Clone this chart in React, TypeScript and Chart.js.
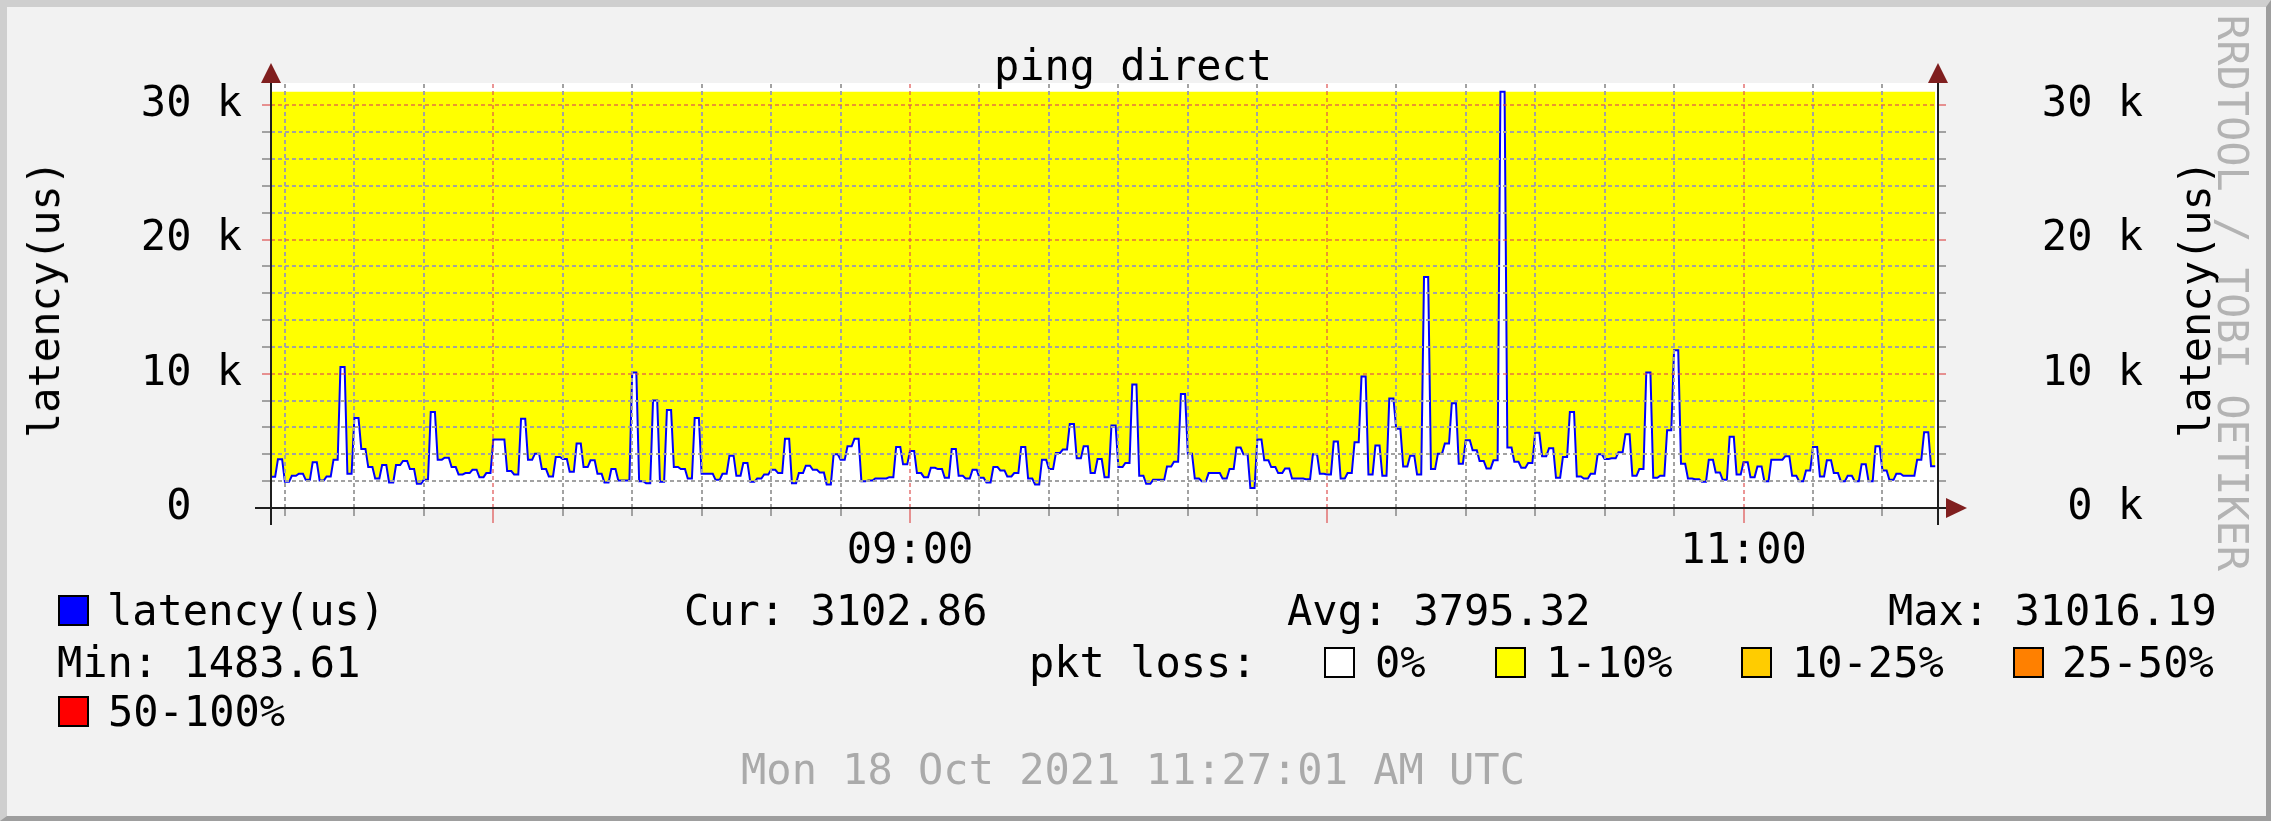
import React, { useEffect, useRef } from "react";
import { Chart, registerables } from "chart.js";

Chart.register(...registerables);

// ---------- data ----------
// first sample time, in minutes after 07:00 (07:28), one sample per minute
const START_MINUTE = 28;
const END_MINUTE = 268;
// median ping latency in microseconds, one value per minute (07:28 .. 11:27)
const latencyUs = [
  2330, 3640, 1950, 2400, 2550, 2100, 3400, 2050, 2350, 3600,
  10500, 2550, 6700, 4400, 3050, 2200, 3200, 1900, 3200, 3500,
  2900, 1800, 2100, 7150, 3600, 3750, 3050, 2500, 2600, 2850,
  2300, 2600, 5100, 5100, 2750, 2500, 6650, 3600, 4050, 2900,
  2350, 3800, 3650, 2700, 4800, 3050, 3550, 2550, 1900, 2900,
  2050, 2050, 10100, 2000, 1850, 8000, 1950, 7300, 3050, 2900,
  2200, 6700, 2550, 2550, 2100, 2550, 3900, 2400, 3350, 1950,
  2200, 2500, 2850, 2600, 5150, 1850, 2600, 3150, 2850, 2650,
  1750, 4000, 3600, 4600, 5150, 2000, 2050, 2200, 2200, 2300,
  4550, 3250, 4250, 2600, 2300, 3000, 2900, 2250, 4400, 2400,
  2200, 2850, 2250, 1900, 3050, 2800, 2350, 2600, 4550, 2200,
  1750, 3600, 2900, 4100, 4350, 6250, 3700, 4600, 2600, 3650,
  2300, 6150, 3050, 3350, 9200, 2400, 1800, 2100, 2100, 3100,
  3450, 8500, 4050, 2200, 2000, 2600, 2600, 2200, 2900, 4500,
  4000, 1483.61, 5100, 3550, 3050, 2600, 2950, 2200, 2200, 2150,
  4000, 2550, 2500, 4950, 2200, 2600, 4900, 9800, 2500, 4650,
  2400, 8150, 5900, 3100, 3900, 2500, 17200, 2900, 4050, 4800,
  7800, 3300, 5050, 4300, 3500, 2950, 3550, 31016.19, 4500, 3450,
  3000, 3350, 5600, 3850, 4450, 2250, 3800, 7150, 2350, 2200,
  2550, 4000, 3650, 3700, 4150, 5500, 2400, 2900, 10100, 2250,
  2400, 5800, 11750, 3300, 2200, 2150, 1950, 3600, 2650, 2100,
  5300, 2500, 3400, 2300, 3100, 2000, 3600, 3600, 3850, 2400,
  2000, 2800, 4550, 2350, 3550, 2600, 2000, 2400, 2000, 3250,
  2000, 4600, 2800, 2100, 2550, 2400, 2400, 3600, 5650, 3102.86,
];
// top of the packet-loss colour band (= max latency)
const LOSS_BAND_TOP = 31016.19;
const Y_MAX = 31660;

// grid / tick positions
const xGridMinutes = [30, 40, 50, 60, 70, 80, 90, 100, 110, 120, 130, 140, 150, 160, 170, 180, 190, 200, 210, 220, 230, 240, 250, 260];
const yGridValues = [0, 2000, 4000, 6000, 8000, 10000, 12000, 14000, 16000, 18000, 20000, 22000, 24000, 26000, 28000, 30000];
// axis labels
const hourLabelMinutes = [120, 240];
const hourLabels = ["09:00", "11:00"];
const yLabelValues = [0, 10000, 20000, 30000];
const yLabelsLeft = ["0  ", "10 k", "20 k", "30 k"];
const yLabelsRight = ["0 k", "10 k", "20 k", "30 k"];

// legend texts
const TITLE = "ping direct";
const AXIS_TITLE = "latency(us)";
const SERIES_NAME = "latency(us)";
const CUR_TEXT = "Cur: 3102.86";
const AVG_TEXT = "Avg: 3795.32";
const MAX_TEXT = "Max: 31016.19";
const MIN_TEXT = "Min: 1483.61";
const LOSS_TITLE = "pkt loss:";
const lossLabels = ["0%", "1-10%", "10-25%", "25-50%", "50-100%"];
const lossColors = ["#FFFFFF", "#FFFF00", "#FFCC00", "#FF8000", "#FF0000"];
const WATERMARK = "RRDTOOL / TOBI OETIKER";
const FOOTER = "Mon 18 Oct 2021 11:27:01 AM UTC";

// ---------- style ----------
const FONT = "'DejaVu Sans Mono', monospace";
const FS = 42;
const GRID = "#A2A2A2";
const MGRID = "rgba(222,79,79,0.6)";
const AXIS = "#1F1F1F";
const ARROW = "#801F1F";
const DASH = [4, 3];

const canvasBg = {
  id: "canvasBg",
  beforeDraw(chart: any) {
    const { ctx, chartArea: a } = chart;
    ctx.save();
    ctx.fillStyle = "#FFFFFF";
    ctx.fillRect(a.left, a.top, a.right - a.left, a.bottom - a.top);
    ctx.restore();
  },
};

// rrdtool-style grid drawn over the areas, positioned by the chart's own scales
const gridPlugin = {
  id: "rrdGrid",
  afterDatasetsDraw(chart: any) {
    const { ctx, chartArea: a, scales } = chart;
    const xs = scales.x;
    const ys = scales.y;
    ctx.save();
    ctx.lineWidth = 2;
    for (const m of xGridMinutes) {
      const x = Math.round(xs.getPixelForValue(m));
      const major = m % 60 === 0;
      ctx.strokeStyle = major ? MGRID : GRID;
      ctx.setLineDash(DASH);
      ctx.beginPath();
      ctx.moveTo(x, a.bottom);
      ctx.lineTo(x, a.top);
      ctx.stroke();
      ctx.setLineDash([]);
      ctx.beginPath();
      ctx.moveTo(x, a.bottom);
      ctx.lineTo(x, a.bottom + (major ? 15 : 8));
      ctx.stroke();
    }
    for (const v of yGridValues) {
      if (v === 0) continue;
      const y = Math.round(ys.getPixelForValue(v));
      const major = v % 10000 === 0;
      ctx.strokeStyle = major ? MGRID : GRID;
      ctx.setLineDash(DASH);
      ctx.beginPath();
      ctx.moveTo(a.left, y);
      ctx.lineTo(a.right, y);
      ctx.stroke();
      ctx.setLineDash([]);
      ctx.beginPath();
      ctx.moveTo(a.left - 9, y);
      ctx.lineTo(a.left, y);
      ctx.moveTo(a.right, y);
      ctx.lineTo(a.right + 8, y);
      ctx.stroke();
    }
    ctx.restore();
  },
};

const axesPlugin = {
  id: "rrdAxes",
  afterDraw(chart: any) {
    const { ctx, chartArea: a } = chart;
    ctx.save();
    ctx.strokeStyle = AXIS;
    ctx.lineWidth = 2;
    ctx.beginPath();
    ctx.moveTo(a.left - 16, a.bottom);
    ctx.lineTo(a.right + 8, a.bottom);
    ctx.moveTo(a.left, a.bottom + 17);
    ctx.lineTo(a.left, a.top);
    ctx.moveTo(a.right, a.bottom + 17);
    ctx.lineTo(a.right, a.top);
    ctx.stroke();
    ctx.fillStyle = ARROW;
    for (const x of [a.left, a.right]) {
      ctx.beginPath();
      ctx.moveTo(x - 10, a.top);
      ctx.lineTo(x + 10, a.top);
      ctx.lineTo(x, a.top - 20);
      ctx.closePath();
      ctx.fill();
    }
    ctx.beginPath();
    ctx.moveTo(a.right + 8, a.bottom - 10);
    ctx.lineTo(a.right + 8, a.bottom + 10);
    ctx.lineTo(a.right + 29, a.bottom);
    ctx.closePath();
    ctx.fill();
    ctx.restore();
  },
};

const textBase: React.CSSProperties = {
  position: "absolute",
  fontFamily: FONT,
  fontSize: FS,
  lineHeight: `${FS}px`,
  whiteSpace: "pre",
  color: "#000",
};

function T({ x, base, text, color, center }: { x: number; base: number; text: string; color?: string; center?: boolean }) {
  return (
    <div
      style={{
        ...textBase,
        left: x,
        top: base - 35.5,
        color: color || "#000",
        transform: center ? "translateX(-50%)" : undefined,
      }}
    >
      {text}
    </div>
  );
}

function RotT({ cx, cy, text, deg, color }: { cx: number; cy: number; text: string; deg: number; color?: string }) {
  return (
    <div
      style={{
        ...textBase,
        left: cx,
        top: cy,
        color: color || "#000",
        transform: `translate(-50%, -50%) rotate(${deg}deg)`,
      }}
    >
      {text}
    </div>
  );
}

function Box({ x, y, color }: { x: number; y: number; color: string }) {
  return (
    <div
      style={{
        position: "absolute",
        left: x,
        top: y,
        width: 31,
        height: 31,
        boxSizing: "border-box",
        background: color,
        border: "2px solid #000",
      }}
    />
  );
}

export default function App() {
  const ref = useRef<HTMLCanvasElement>(null);

  useEffect(() => {
    const canvas = ref.current!;
    const linePts: { x: number; y: number }[] = [];
    latencyUs.forEach((v, i) => {
      const t = START_MINUTE + i;
      linePts.push({ x: t, y: v });
      linePts.push({ x: t + 0.6, y: v });
    });
    const bandPts = linePts.map((p) => ({ x: p.x, y: LOSS_BAND_TOP }));

    const tickFont = { family: FONT, size: FS };
    const setYTicks = (s: any) => {
      s.ticks = yGridValues.map((v) => ({ value: v }));
    };
    const hiddenGrid = () => ({ display: false, drawOnChartArea: false, drawTicks: true, tickLength: 0 });

    const chart = new Chart(canvas, {
      type: "line",
      data: {
        datasets: [
          {
            data: linePts,
            borderColor: "#0000FF",
            borderWidth: 2,
            pointRadius: 0,
            fill: false,
            tension: 0,
          },
          {
            data: bandPts,
            borderColor: "rgba(0,0,0,0)",
            borderWidth: 1,
            pointRadius: 0,
            backgroundColor: "#FFFF00",
            fill: "-1",
            tension: 0,
          },
        ],
      },
      options: {
        animation: false,
        responsive: false,
        events: [],
        layout: { padding: { top: 83, left: 0, right: 128, bottom: 0 } },
        plugins: {
          legend: { display: false },
          title: { display: false },
          tooltip: { enabled: false },
        },
        scales: {
          x: {
            type: "linear",
            position: "bottom",
            min: START_MINUTE,
            max: END_MINUTE,
            afterBuildTicks: (s: any) => {
              s.ticks = xGridMinutes.map((v) => ({ value: v }));
            },
            afterFit: (s: any) => {
              s.height = 313;
            },
            ticks: {
              autoSkip: false,
              maxRotation: 0,
              minRotation: 0,
              padding: 19,
              color: "#000",
              font: tickFont,
              callback: (v: any) => {
                const k = hourLabelMinutes.indexOf(Math.round(Number(v)));
                return k >= 0 ? hourLabels[k] : "";
              },
            },
            grid: hiddenGrid(),
            border: { display: false },
          },
          y: {
            position: "left",
            min: 0,
            max: Y_MAX,
            afterBuildTicks: setYTicks,
            afterFit: (s: any) => {
              s.width = 271;
            },
            ticks: {
              autoSkip: false,
              padding: 29,
              color: "#000",
              font: tickFont,
              callback: (v: any) => {
                const k = yLabelValues.indexOf(Math.round(Number(v)));
                return k >= 0 ? yLabelsLeft[k] : "";
              },
            },
            grid: hiddenGrid(),
            border: { display: false },
          },
          y2: {
            position: "right",
            min: 0,
            max: Y_MAX,
            afterBuildTicks: setYTicks,
            afterFit: (s: any) => {
              s.width = 205;
            },
            ticks: {
              autoSkip: false,
              crossAlign: "far",
              padding: 10,
              color: "#000",
              font: tickFont,
              callback: (v: any) => {
                const k = yLabelValues.indexOf(Math.round(Number(v)));
                return k >= 0 ? yLabelsRight[k] : "";
              },
            },
            grid: hiddenGrid(),
            border: { display: false },
          },
        },
      } as any,
      plugins: [canvasBg, gridPlugin, axesPlugin],
    });
    return () => chart.destroy();
  }, []);

  const boxY1 = 595;
  const boxY2 = 647;
  const boxY3 = 696;

  return (
    <div style={{ position: "fixed", left: 0, top: 0, width: 2271, height: 821, background: "#F2F2F2", overflow: "hidden" }}>
      <div
        style={{
          position: "absolute",
          inset: 0,
          boxSizing: "border-box",
          borderStyle: "solid",
          borderWidth: "7px 5px 5px 7px",
          borderColor: "#CFCFCF #9E9E9E #9E9E9E #CFCFCF",
        }}
      />
      <canvas ref={ref} width={2271} height={821} style={{ position: "absolute", left: 0, top: 0, width: 2271, height: 821 }} />

      <T x={1133} base={80} text={TITLE} center />
      <RotT cx={45} cy={299} text={AXIS_TITLE} deg={-90} />
      <RotT cx={2196} cy={299} text={AXIS_TITLE} deg={-90} />
      <RotT cx={2232} cy={293} text={WATERMARK} deg={90} color="#B3B3B3" />

      <Box x={58} y={boxY1} color="#0000FF" />
      <T x={107} base={625} text={SERIES_NAME} />
      <T x={684} base={625} text={CUR_TEXT} />
      <T x={1287} base={625} text={AVG_TEXT} />
      <T x={1888} base={625} text={MAX_TEXT} />

      <T x={57} base={677} text={MIN_TEXT} />
      <T x={1029} base={677} text={LOSS_TITLE} />
      <Box x={1324} y={boxY2} color={lossColors[0]} />
      <T x={1375} base={677} text={lossLabels[0]} />
      <Box x={1495} y={boxY2} color={lossColors[1]} />
      <T x={1546} base={677} text={lossLabels[1]} />
      <Box x={1741} y={boxY2} color={lossColors[2]} />
      <T x={1792} base={677} text={lossLabels[2]} />
      <Box x={2013} y={boxY2} color={lossColors[3]} />
      <T x={2062} base={677} text={lossLabels[3]} />

      <Box x={58} y={boxY3} color={lossColors[4]} />
      <T x={108} base={726} text={lossLabels[4]} />

      <T x={1133} base={784} text={FOOTER} color="#AAAAAA" center />
    </div>
  );
}
